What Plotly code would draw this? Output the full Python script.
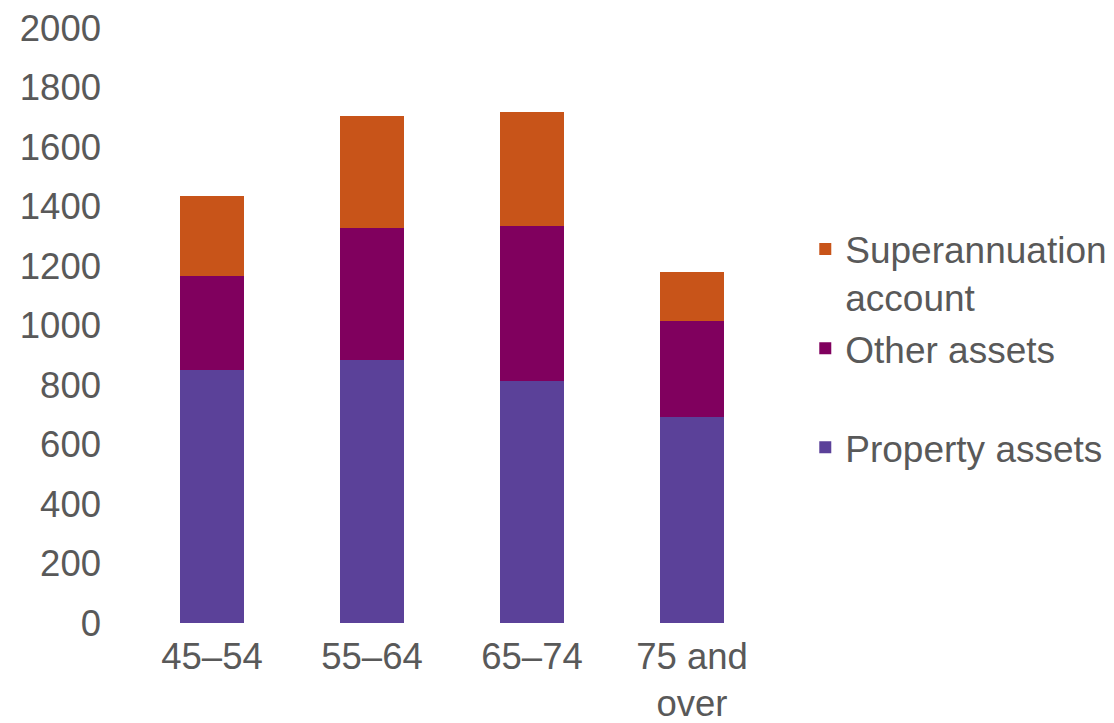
import plotly.graph_objects as go

age_groups = ["45–54", "55–64", "65–74", "75 and<br>over"]
property_assets = [852, 883, 813, 691]
other_assets = [314, 446, 522, 324]
super_account = [268, 375, 382, 165]
y_ticks = [0, 200, 400, 600, 800, 1000, 1200, 1400, 1600, 1800, 2000]

FONT = "Liberation Sans, Arial, sans-serif"
GREY = "#595959"

fig = go.Figure()
fig.add_trace(go.Bar(x=age_groups, y=property_assets, name="Property assets",
                     legendrank=3,
                     marker=dict(color="#5B4199", line=dict(width=0))))
fig.add_trace(go.Bar(x=age_groups, y=other_assets, name="Other assets<br> ",
                     legendrank=2,
                     marker=dict(color="#80005E", line=dict(width=0))))
fig.add_trace(go.Bar(x=age_groups, y=super_account, name="Superannuation<br>account",
                     legendrank=1,
                     marker=dict(color="#C85419", line=dict(width=0))))

fig.update_layout(
    barmode="stack",
    bargap=0.6,
    width=1114, height=723,
    margin=dict(l=132, r=342, t=28, b=100, autoexpand=False),
    paper_bgcolor="white", plot_bgcolor="white",
    font=dict(family=FONT, size=36, color=GREY),
    legend=dict(
        traceorder="normal",
        x=1.052, xanchor="left",
        y=0.68, yanchor="top",
        valign="top",
        font=dict(size=37, color=GREY),
        itemclick=False,
    ),
    xaxis=dict(showline=False, showgrid=False, ticks="", automargin=False,
               ticklabelstandoff=8,
               tickfont=dict(size=36.5, color=GREY)),
    yaxis=dict(range=[0, 2000], tickvals=y_ticks, showgrid=False,
               zeroline=False, showline=False, ticks="", automargin=False,
               ticklabelstandoff=30,
               tickfont=dict(size=36.5, color=GREY)),
)

fig.write_html("out.html")
